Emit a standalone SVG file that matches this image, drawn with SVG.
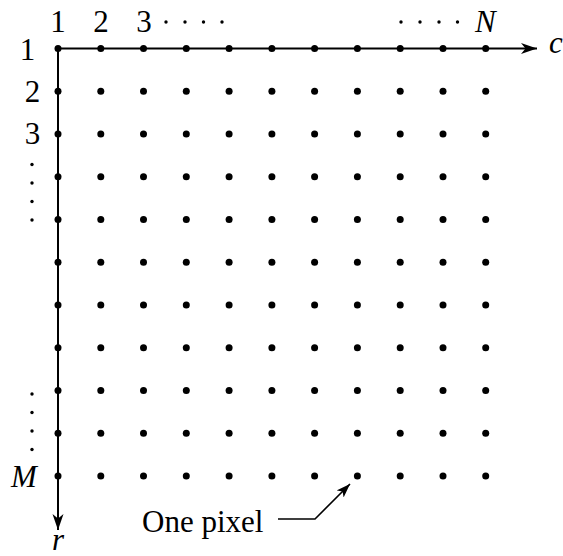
<svg xmlns="http://www.w3.org/2000/svg" width="563" height="556" viewBox="0 0 563 556">
<style>
text{font-family:"Liberation Serif","Times New Roman",serif;fill:#000;font-size:31px}
.it{font-style:italic}
.ax{stroke:#000;stroke-width:2;fill:none}
.ld{stroke:#000;stroke-width:1.6;fill:none}
.d{fill:#000}
</style>
<defs>
<marker id="ah" markerUnits="userSpaceOnUse" markerWidth="18" markerHeight="12" refX="16" refY="5.5" orient="auto">
<path d="M0,0 L16,5.5 L0,11 L4.5,5.5 Z" fill="#000"/>
</marker>
<marker id="ah2" markerUnits="userSpaceOnUse" markerWidth="16" markerHeight="12" refX="14" refY="5" orient="auto">
<path d="M0,0 L14,5 L0,10 L3.5,5 Z" fill="#000"/>
</marker>
<circle id="p" r="3.5"/>
</defs>
<g id="connectors">
<line class="ax" x1="58" y1="48.5" x2="537" y2="48.5" marker-end="url(#ah)"/>
<line class="ax" x1="58" y1="48.5" x2="58" y2="530" marker-end="url(#ah)"/>
<polyline class="ld" points="278,519 315,519 350,484" marker-end="url(#ah2)"/>
</g>
<g id="grid" class="d">
<use href="#p" x="58" y="48.5"/><use href="#p" x="100.8" y="48.5"/><use href="#p" x="143.5" y="48.5"/><use href="#p" x="186.3" y="48.5"/><use href="#p" x="229.1" y="48.5"/><use href="#p" x="271.9" y="48.5"/><use href="#p" x="314.6" y="48.5"/><use href="#p" x="357.4" y="48.5"/><use href="#p" x="400.2" y="48.5"/><use href="#p" x="443" y="48.5"/><use href="#p" x="485.7" y="48.5"/>
<use href="#p" x="58" y="91.25"/><use href="#p" x="100.8" y="91.25"/><use href="#p" x="143.5" y="91.25"/><use href="#p" x="186.3" y="91.25"/><use href="#p" x="229.1" y="91.25"/><use href="#p" x="271.9" y="91.25"/><use href="#p" x="314.6" y="91.25"/><use href="#p" x="357.4" y="91.25"/><use href="#p" x="400.2" y="91.25"/><use href="#p" x="443" y="91.25"/><use href="#p" x="485.7" y="91.25"/>
<use href="#p" x="58" y="134"/><use href="#p" x="100.8" y="134"/><use href="#p" x="143.5" y="134"/><use href="#p" x="186.3" y="134"/><use href="#p" x="229.1" y="134"/><use href="#p" x="271.9" y="134"/><use href="#p" x="314.6" y="134"/><use href="#p" x="357.4" y="134"/><use href="#p" x="400.2" y="134"/><use href="#p" x="443" y="134"/><use href="#p" x="485.7" y="134"/>
<use href="#p" x="58" y="176.75"/><use href="#p" x="100.8" y="176.75"/><use href="#p" x="143.5" y="176.75"/><use href="#p" x="186.3" y="176.75"/><use href="#p" x="229.1" y="176.75"/><use href="#p" x="271.9" y="176.75"/><use href="#p" x="314.6" y="176.75"/><use href="#p" x="357.4" y="176.75"/><use href="#p" x="400.2" y="176.75"/><use href="#p" x="443" y="176.75"/><use href="#p" x="485.7" y="176.75"/>
<use href="#p" x="58" y="219.5"/><use href="#p" x="100.8" y="219.5"/><use href="#p" x="143.5" y="219.5"/><use href="#p" x="186.3" y="219.5"/><use href="#p" x="229.1" y="219.5"/><use href="#p" x="271.9" y="219.5"/><use href="#p" x="314.6" y="219.5"/><use href="#p" x="357.4" y="219.5"/><use href="#p" x="400.2" y="219.5"/><use href="#p" x="443" y="219.5"/><use href="#p" x="485.7" y="219.5"/>
<use href="#p" x="58" y="262.25"/><use href="#p" x="100.8" y="262.25"/><use href="#p" x="143.5" y="262.25"/><use href="#p" x="186.3" y="262.25"/><use href="#p" x="229.1" y="262.25"/><use href="#p" x="271.9" y="262.25"/><use href="#p" x="314.6" y="262.25"/><use href="#p" x="357.4" y="262.25"/><use href="#p" x="400.2" y="262.25"/><use href="#p" x="443" y="262.25"/><use href="#p" x="485.7" y="262.25"/>
<use href="#p" x="58" y="305"/><use href="#p" x="100.8" y="305"/><use href="#p" x="143.5" y="305"/><use href="#p" x="186.3" y="305"/><use href="#p" x="229.1" y="305"/><use href="#p" x="271.9" y="305"/><use href="#p" x="314.6" y="305"/><use href="#p" x="357.4" y="305"/><use href="#p" x="400.2" y="305"/><use href="#p" x="443" y="305"/><use href="#p" x="485.7" y="305"/>
<use href="#p" x="58" y="347.75"/><use href="#p" x="100.8" y="347.75"/><use href="#p" x="143.5" y="347.75"/><use href="#p" x="186.3" y="347.75"/><use href="#p" x="229.1" y="347.75"/><use href="#p" x="271.9" y="347.75"/><use href="#p" x="314.6" y="347.75"/><use href="#p" x="357.4" y="347.75"/><use href="#p" x="400.2" y="347.75"/><use href="#p" x="443" y="347.75"/><use href="#p" x="485.7" y="347.75"/>
<use href="#p" x="58" y="390.5"/><use href="#p" x="100.8" y="390.5"/><use href="#p" x="143.5" y="390.5"/><use href="#p" x="186.3" y="390.5"/><use href="#p" x="229.1" y="390.5"/><use href="#p" x="271.9" y="390.5"/><use href="#p" x="314.6" y="390.5"/><use href="#p" x="357.4" y="390.5"/><use href="#p" x="400.2" y="390.5"/><use href="#p" x="443" y="390.5"/><use href="#p" x="485.7" y="390.5"/>
<use href="#p" x="58" y="433.25"/><use href="#p" x="100.8" y="433.25"/><use href="#p" x="143.5" y="433.25"/><use href="#p" x="186.3" y="433.25"/><use href="#p" x="229.1" y="433.25"/><use href="#p" x="271.9" y="433.25"/><use href="#p" x="314.6" y="433.25"/><use href="#p" x="357.4" y="433.25"/><use href="#p" x="400.2" y="433.25"/><use href="#p" x="443" y="433.25"/><use href="#p" x="485.7" y="433.25"/>
<use href="#p" x="58" y="476"/><use href="#p" x="100.8" y="476"/><use href="#p" x="143.5" y="476"/><use href="#p" x="186.3" y="476"/><use href="#p" x="229.1" y="476"/><use href="#p" x="271.9" y="476"/><use href="#p" x="314.6" y="476"/><use href="#p" x="357.4" y="476"/><use href="#p" x="400.2" y="476"/><use href="#p" x="443" y="476"/><use href="#p" x="485.7" y="476"/>
</g>
<g id="ellipses" class="d">
<circle cx="166" cy="22" r="1.7"/><circle cx="185" cy="22" r="1.7"/><circle cx="203.5" cy="22" r="1.7"/><circle cx="222" cy="22" r="1.7"/>
<circle cx="401" cy="22" r="1.7"/><circle cx="420" cy="22" r="1.7"/><circle cx="439" cy="22" r="1.7"/><circle cx="457.5" cy="22" r="1.7"/>
<circle cx="32" cy="164.5" r="1.7"/><circle cx="32" cy="183" r="1.7"/><circle cx="32" cy="201.5" r="1.7"/><circle cx="32" cy="220" r="1.7"/>
<circle cx="32" cy="394" r="1.7"/><circle cx="32" cy="412.5" r="1.7"/><circle cx="32" cy="431" r="1.7"/><circle cx="32" cy="449.5" r="1.7"/>
</g>
<g id="labels">
<text x="58" y="31.5" text-anchor="middle">1</text>
<text x="101" y="31.5" text-anchor="middle">2</text>
<text x="144" y="31.5" text-anchor="middle">3</text>
<text x="475" y="31.5" class="it">N</text>
<text x="549" y="52.5" class="it">c</text>
<text x="27.5" y="59.5" text-anchor="middle">1</text>
<text x="32.5" y="102" text-anchor="middle">2</text>
<text x="32.5" y="143.5" text-anchor="middle">3</text>
<text x="11" y="486.5" class="it">M</text>
<text x="52" y="550" class="it">r</text>
<text x="142" y="532">One pixel</text>
</g>
</svg>
